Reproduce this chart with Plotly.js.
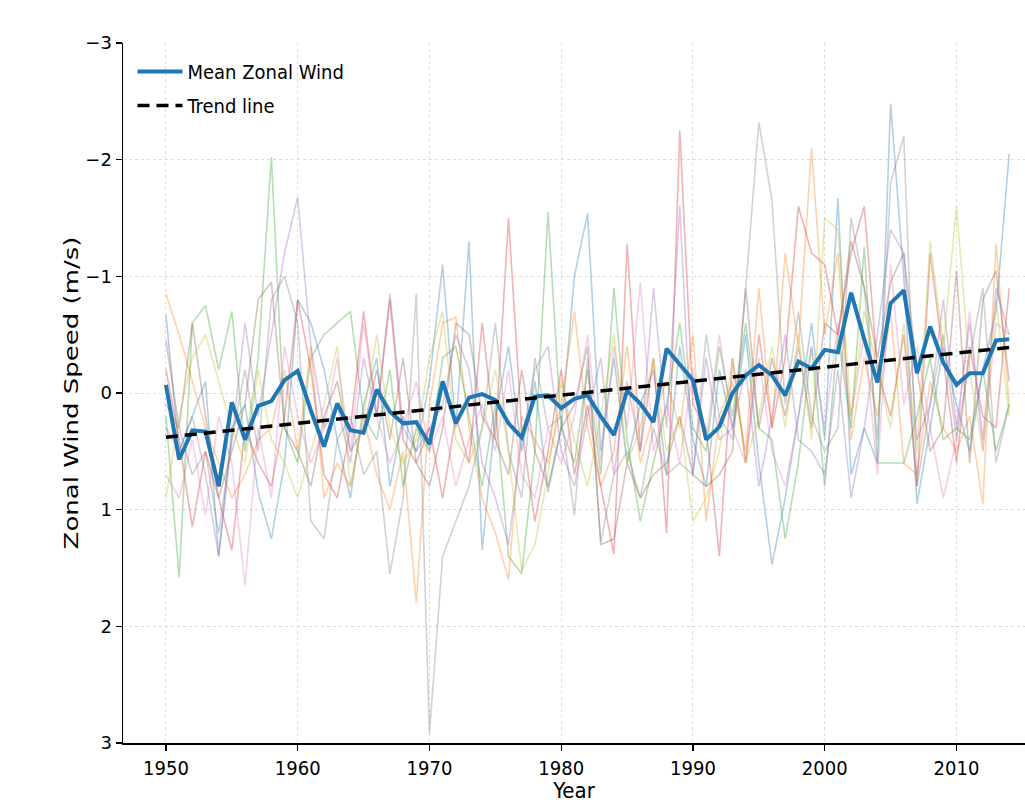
<!DOCTYPE html>
<html>
<head>
<meta charset="utf-8">
<script src="https://cdn.plot.ly/plotly-3.0.1.min.js"></script>
<style>
html,body{margin:0;padding:0;background:#fff;}
#chart{width:1025px;height:803px;}
</style>
</head>
<body>
<div id="chart"></div>
<script>
// Years 1950-2014
const years = [];
for (let y = 1950; y <= 2014; y++) years.push(y);

// Ensemble mean zonal wind (m/s)
const meanWind = [
  -0.07, 0.57, 0.32, 0.33, 0.80, 0.08, 0.40, 0.11, 0.07, -0.11,
  -0.19, 0.15, 0.46, 0.09, 0.32, 0.34, -0.03, 0.16, 0.26, 0.25,
  0.44, -0.10, 0.26, 0.04, 0.01, 0.06, 0.26, 0.38, 0.03, 0.02,
  0.13, 0.05, 0.02, 0.20, 0.36, -0.02, 0.09, 0.25, -0.38, -0.24,
  -0.11, 0.40, 0.29, 0.00, -0.15, -0.24, -0.15, 0.02, -0.27, -0.21,
  -0.37, -0.35, -0.86, -0.46, -0.09, -0.77, -0.88, -0.17, -0.57, -0.26,
  -0.07, -0.17, -0.17, -0.45, -0.46
];

// Trend line end values (1950, 2014)
const trendYears = [1950, 2014];
const trendEnds = [0.38, -0.39];

// Individual ensemble members
const member0 = [
  -0.67, 0.5, 0.2, -0.1, 1.4, 0.3, 0.1, 0.85, 1.25, 0.6,
  -0.8, -0.6, -0.2, 0.4, 0.9, 0.1, -0.3, 0.8, 0.2, 0.5,
  -0.1, -1.1, 0.3, -1.3, 1.35, 0.2, -0.4, 0.5, -0.1, 0.85,
  0.3, -1.0, -1.54, 0.5, -0.3, 0.6, 0.1, -0.2, 0.7, -0.4,
  0.4, 0.8, -0.2, 0.3, -0.5, 0.6, 1.47, 0.9, 0.2, -0.6,
  0.4, -1.67, 0.7, 0.3, 0.6, -2.48, -1.0, 0.95, 0.3, -0.4,
  0.1, 0.5, -0.2, -0.7, -2.05
];
const member1 = [
  -0.85, -0.5, -0.1, 0.3, 0.6, 0.9, 0.7, 0.4, 0.3, -0.2,
  0.5, -0.4, 0.9, 0.6, 0.8, 0.2, 0.7, 1.0, 0.5, 1.8,
  0.1, -0.6, -0.65, 0.3, 0.9, 1.2, 1.6, 0.2, 0.4, 0.6,
  0.1, -0.7, 0.3, 0.8, 0.5, -0.4, 0.6, 0.2, -0.1, 0.3,
  -0.5, 1.1, 0.2, -0.1, 0.5, -0.9, 0.3, -1.2, -0.4, -2.1,
  -0.5, -1.2, 0.4, -0.3, 0.2, -0.7, 0.6, 0.7, -0.1, 0.3,
  0.5, 0.2, 0.95, -1.28, 0.1
];
const member2 = [
  0.2, 1.58, -0.6, -0.75, -0.2, -0.7, 0.5, -0.3, -2.02, 0.3,
  0.6, -0.3, -0.5, -0.6, -0.7, 0.2, 0.4, -0.2, 0.8, 0.3,
  0.5, -0.3, -0.4, 0.2, 0.8, 0.1, 1.4, 1.55, 0.5, -1.55,
  0.3, 0.6, -0.2, 0.7, -0.9, 0.4, 1.1, 0.6, 0.1, -0.6,
  0.3, 0.5, -0.4, 0.2, -0.6, 0.3, 0.4, 1.25, 0.6, -0.4,
  0.8, -0.5, 0.3, -1.25, 0.6, 0.6, 0.6, 0.2, -0.3, 0.4,
  0.3, 0.4, -0.2, 0.5, 0.1
];
const member3 = [
  -0.2, 0.4, 1.15, 0.5, 0.9, 1.35, 0.3, 0.6, 0.8, 0.2,
  -0.8, -0.2, 0.7, 0.9, 0.3, -0.7, 0.2, -0.8, 0.4, 0.6,
  0.3, 0.9, 0.2, 0.6, -0.6, 0.4, -1.5, 0.3, 1.1, 0.5,
  -0.2, 0.7, 0.1, 0.8, 1.38, -1.28, 0.5, -0.3, 1.2, -2.25,
  0.1, 0.3, 1.4, -0.3, 0.6, -0.5, 0.3, -0.3, -1.6, -1.2,
  -1.1, -0.5, -1.2, -1.6, -0.2, 0.2, -0.5, 0.8, -1.2, -0.3,
  0.6, -0.4, 0.2, 0.3, -0.9
];
const member4 = [
  0.3, 0.5, 0.2, 0.7, 1.4, 0.4, -0.6, 0.2, -0.5, -1.2,
  -1.68, -0.4, 0.3, 0.1, 0.6, -0.3, 0.2, -0.85, 0.3, 0.5,
  0.3, 0.1, -0.5, -0.2, 0.6, 0.9, 1.3, 0.4, -0.2, -0.4,
  0.5, 0.8, 0.2, -0.3, 0.7, -0.1, 0.5, -0.9, 0.3, -1.6,
  0.7, -0.3, 0.4, 0.3, -0.2, 0.8, 0.2, -0.5, 0.4, 0.5,
  0.7, -0.2, 0.9, 0.3, -0.5, -1.4, -1.2, 0.4, 0.1, -0.8,
  0.3, -0.6, 0.4, -0.9, -0.5
];
const member5 = [
  -0.45, 0.3, -0.6, 0.2, 0.9, 0.5, 0.1, -0.8, -0.95, 0.3,
  0.5, 0.8, 0.2, -0.1, 0.5, 0.3, -0.2, 0.4, -0.3, 0.6,
  0.8, 0.3, -0.6, -0.5, 0.2, 0.4, 0.7, -0.2, 0.5, 0.8,
  0.3, 0.1, -0.4, 1.3, 1.25, 0.6, 0.9, 0.7, 0.6, 0.2,
  0.7, 0.8, 0.7, 0.5, -0.9, 0.3, -0.3, 0.2, -0.4, 0.3,
  -0.6, -0.5, -1.3, -0.9, -0.3, -0.95, -1.2, -0.2, 0.5, 0.3,
  -1.05, 0.6, -0.8, -1.05, -0.1
];
const member6 = [
  0.7, 0.9, 0.4, 1.05, 0.2, 0.6, 1.65, 0.3, 0.9, -0.4,
  0.2, 0.6, 0.3, -0.3, 0.5, -0.6, 0.2, 0.6, 0.3, -0.1,
  0.5, 0.2, 0.8, 0.4, 0.1, 0.5, -0.2, 0.7, 0.9, 0.3,
  0.6, 0.2, -0.5, 0.6, -0.4, 0.3, -0.95, 0.5, 0.1, 0.6,
  -0.2, 0.4, -0.5, 0.3, 0.6, -0.3, 0.5, 0.8, 0.2, -0.4,
  0.3, -0.6, 0.2, -0.5, 0.7, -1.1, 0.1, -0.4, 0.3, 0.9,
  0.4, -0.7, 0.5, -0.6, -0.5
];
const member7 = [
  0.1, 0.3, 0.7, 0.5, 1.2, 0.4, -0.2, 0.5, -0.8, -1.0,
  -0.6, 1.1, 1.25, 0.4, 0.2, 0.7, 0.5, 1.55, 0.9, -0.85,
  2.92, 1.4, 1.1, 0.8, 0.3, -0.6, 0.5, 0.9, -0.3, 0.3,
  0.2, 1.05, -0.3, 1.28, 0.7, 0.5, 0.9, 0.3, 0.7, 0.6,
  0.7, -0.5, 0.2, 0.4, -0.9, -2.32, -1.65, 0.1, -0.7, 0.2,
  0.5, 0.3, -1.5, -0.9, 0.4, -1.8, -2.2, 0.8, 0.1, -0.5,
  0.4, -0.3, -0.9, 0.6, 0.1
];
const member8 = [
  0.9, 0.2, -0.3, -0.5, -0.1, 0.3, 0.6, -0.2, 0.4, 0.6,
  0.9, 0.5, 0.1, -0.4, 0.8, 0.2, -0.5, 0.3, 0.6, 0.4,
  -0.3, -0.7, 0.4, 0.6, 0.3, -0.2, 0.5, 1.52, 1.3, 0.7,
  -0.1, 0.4, 0.8, 0.2, -0.5, 0.6, 0.3, -0.3, 0.5, 0.2,
  1.1, 0.9, 0.5, -0.3, 0.6, 0.2, -0.4, 0.3, -0.5, 0.4,
  -1.5, -1.4, 0.2, -0.7, -0.2, 0.3, -0.6, 0.5, -1.3, -0.4,
  -1.6, -0.2, 0.5, -0.8, 0.2
];

const members = [member0, member1, member2, member3, member4, member5, member6, member7, member8];
const memberColors = ['#1f77b4', '#ff7f0e', '#2ca02c', '#d62728', '#9467bd', '#8c564b', '#e377c2', '#7f7f7f', '#bcbd22'];

const condensed = '"DejaVu Sans Condensed", "Liberation Sans Narrow", "DejaVu Sans", sans-serif';

const traces = members.map((m, i) => ({
  x: years, y: m, type: 'scatter', mode: 'lines',
  line: {color: memberColors[i], width: 1.6},
  opacity: 0.35, showlegend: false, hoverinfo: 'skip'
}));

traces.push({
  x: years, y: meanWind, type: 'scatter', mode: 'lines',
  name: 'Mean Zonal Wind', legendgroup: 'a',
  line: {color: '#1f77b4', width: 4}
});
traces.push({
  x: trendYears, y: trendEnds, type: 'scatter', mode: 'lines',
  name: 'Trend line', legendgroup: 'b',
  line: {color: '#000000', width: 3.5, dash: '12px,7px'}
});

const layout = {
  width: 1025, height: 803,
  margin: {l: 123, r: 0, t: 43, b: 60, pad: 0},
  paper_bgcolor: '#ffffff', plot_bgcolor: '#ffffff',
  showlegend: true,
  legend: {
    x: 0.0105, y: 0.987, xanchor: 'left', yanchor: 'top',
    bgcolor: 'rgba(255,255,255,0)', borderwidth: 0,
    font: {family: condensed, size: 20, color: '#000'},
    traceorder: 'grouped', tracegroupgap: 5, itemwidth: 45
  },
  xaxis: {
    range: [1946.74, 2015.2],
    tickmode: 'array', tickvals: [1950, 1960, 1970, 1980, 1990, 2000, 2010],
    ticks: 'outside', ticklen: 6, tickwidth: 1.2, tickcolor: '#000',
    showline: true, linecolor: '#000', linewidth: 1.5,
    showgrid: true, gridcolor: '#dcdcdc', griddash: 'dot', gridwidth: 1,
    zeroline: false,
    tickfont: {family: condensed, size: 20, color: '#000'},
    title: {text: 'Year', font: {family: condensed, size: 22, color: '#000'}, standoff: 9}
  },
  yaxis: {
    range: [3, -3],
    tickmode: 'array', tickvals: [-3, -2, -1, 0, 1, 2, 3],
    ticks: 'outside', ticklen: 6, tickwidth: 1.2, tickcolor: '#000',
    showline: true, linecolor: '#000', linewidth: 1.5,
    showgrid: true, gridcolor: '#dcdcdc', griddash: 'dot', gridwidth: 1,
    zeroline: false,
    tickfont: {family: '"DejaVu Sans", sans-serif', size: 18, color: '#000'},
    title: {text: 'Zonal Wind Speed (m/s)', font: {family: '"DejaVu Sans", sans-serif', size: 20, color: '#000'}, standoff: 10}
  }
};

Plotly.newPlot('chart', traces, layout, {displayModeBar: false, staticPlot: true}).then(() => {
  // the reference's y title is stretched along its length
  const t = document.querySelector('.ytitle');
  if (t) {
    const x = parseFloat(t.getAttribute('x'));
    const y = parseFloat(t.getAttribute('y'));
    const k = 1.3;
    t.setAttribute('transform', `translate(9,${y}) scale(1,${k}) translate(0,${-y}) rotate(-90,${x},${y})`);
  }
});
</script>
</body>
</html>
